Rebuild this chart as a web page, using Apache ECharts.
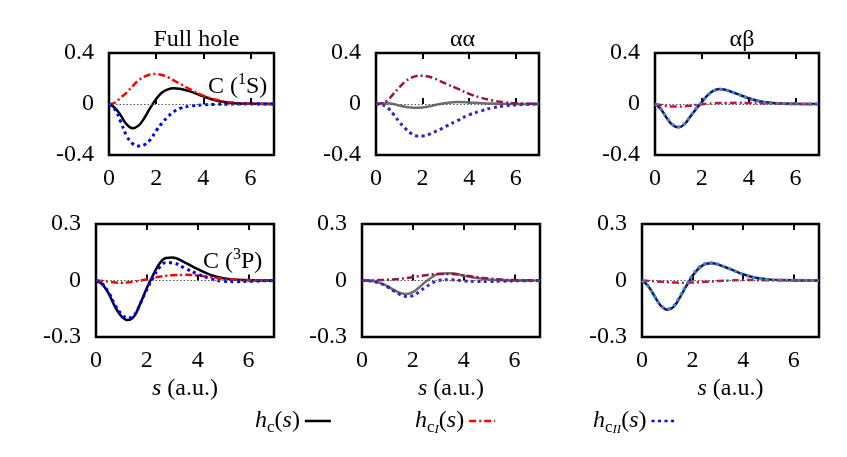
<!DOCTYPE html>
<html>
<head>
<meta charset="utf-8">
<script src="https://cdn.jsdelivr.net/npm/echarts@6/dist/echarts.min.js"></script>
<style>
  html, body { margin: 0; padding: 0; background: #fff; }
  #chart { width: 847px; height: 457px; }
</style>
</head>
<body>
<div id="chart"></div>
<script>
// s values (a.u.)
var s = [0, 0.25, 0.5, 0.75, 1, 1.25, 1.5, 1.75, 2, 2.25, 2.5, 2.75, 3, 3.5, 4, 4.5, 5, 5.5, 6, 7];

// C (1S)
var full1S_hc   = [0, -0.03, -0.09, -0.16, -0.19, -0.17, -0.11, -0.03, 0.04, 0.09, 0.115, 0.123, 0.12, 0.095, 0.06, 0.03, 0.012, 0.004, 0.001, 0];
var full1S_hcI  = [0, 0.01, 0.05, 0.09, 0.14, 0.185, 0.215, 0.232, 0.235, 0.228, 0.21, 0.185, 0.16, 0.11, 0.065, 0.035, 0.017, 0.007, 0.003, 0];
var full1S_hcII = [0, -0.04, -0.14, -0.25, -0.31, -0.33, -0.32, -0.28, -0.21, -0.15, -0.1, -0.06, -0.035, -0.015, -0.007, -0.003, -0.001, 0, 0, 0];
var aa1S_hc     = [0, 0.005, 0.005, 0, -0.012, -0.022, -0.028, -0.03, -0.028, -0.02, -0.01, 0, 0.008, 0.015, 0.012, 0.007, 0.003, 0.001, 0, 0];
var aa1S_hcI    = [0, 0.005, 0.03, 0.08, 0.13, 0.175, 0.205, 0.22, 0.222, 0.215, 0.2, 0.18, 0.16, 0.12, 0.08, 0.05, 0.028, 0.014, 0.006, 0];
var aa1S_hcII   = [0, -0.005, -0.03, -0.08, -0.14, -0.19, -0.23, -0.25, -0.25, -0.24, -0.22, -0.2, -0.175, -0.13, -0.085, -0.055, -0.03, -0.015, -0.007, 0];
var ab1S_hc     = [0, -0.04, -0.11, -0.165, -0.183, -0.16, -0.1, -0.04, 0.015, 0.07, 0.105, 0.118, 0.112, 0.08, 0.045, 0.02, 0.008, 0.003, 0.001, 0];
var ab1S_hcI    = [0, -0.008, -0.016, -0.02, -0.02, -0.018, -0.013, -0.007, -0.002, 0.002, 0.005, 0.007, 0.008, 0.009, 0.008, 0.005, 0.003, 0.001, 0, 0];
var ab1S_hcII   = [0, -0.038, -0.106, -0.16, -0.18, -0.158, -0.099, -0.038, 0.016, 0.069, 0.103, 0.116, 0.11, 0.079, 0.044, 0.02, 0.008, 0.003, 0.001, 0];

// C (3P)
var full3P_hc   = [0, -0.02, -0.07, -0.14, -0.19, -0.21, -0.19, -0.12, -0.04, 0.03, 0.09, 0.12, 0.122, 0.095, 0.06, 0.03, 0.012, 0.004, 0.001, 0];
var full3P_hcI  = [0, -0.002, -0.006, -0.01, -0.012, -0.01, -0.006, 0, 0.007, 0.014, 0.02, 0.025, 0.028, 0.03, 0.026, 0.018, 0.01, 0.005, 0.002, 0];
var full3P_hcII = [0, -0.018, -0.064, -0.13, -0.178, -0.2, -0.184, -0.12, -0.047, 0.016, 0.07, 0.095, 0.094, 0.065, 0.034, 0.01, -0.004, -0.006, -0.004, 0];
var aa3P_hc     = [0, -0.001, -0.005, -0.015, -0.03, -0.05, -0.066, -0.072, -0.062, -0.037, -0.007, 0.017, 0.035, 0.039, 0.026, 0.013, 0.005, 0.001, 0, 0];
var aa3P_hcI    = [0, 0, 0.001, 0.002, 0.004, 0.006, 0.009, 0.013, 0.018, 0.023, 0.028, 0.032, 0.035, 0.035, 0.028, 0.018, 0.01, 0.005, 0.002, 0];
var aa3P_hcII   = [0, -0.001, -0.006, -0.017, -0.034, -0.056, -0.075, -0.085, -0.08, -0.06, -0.035, -0.015, 0, 0.004, -0.002, -0.005, -0.005, -0.004, -0.002, 0];
var ab3P_hc     = [0, -0.03, -0.085, -0.135, -0.155, -0.14, -0.09, -0.03, 0.025, 0.065, 0.087, 0.091, 0.085, 0.06, 0.033, 0.015, 0.006, 0.002, 0.001, 0];
var ab3P_hcI    = [0, -0.002, -0.004, -0.007, -0.009, -0.011, -0.012, -0.012, -0.011, -0.009, -0.007, -0.005, -0.003, 0, 0.002, 0.002, 0.001, 0.001, 0, 0];
var ab3P_hcII   = [0, -0.029, -0.083, -0.131, -0.15, -0.134, -0.084, -0.024, 0.03, 0.07, 0.09, 0.094, 0.087, 0.06, 0.032, 0.014, 0.005, 0.001, 0.001, 0];

var panelTitles = ["Full hole", "\u03b1\u03b1", "\u03b1\u03b2"];
var xTicks = { min: 0, max: 7, interval: 2 };
var yTop = { min: -0.4, max: 0.4, interval: 0.4 };
var yBottom = { min: -0.3, max: 0.3, interval: 0.3 };

window.addEventListener("load", function () {
  var FONT = "Liberation Serif";
  var FS = 24;
  var myChart = echarts.init(document.getElementById("chart"));

  // grid boxes, one per panel
  var boxes = [
    { left: 109, top: 53, width: 165, height: 102 },
    { left: 376, top: 53, width: 163, height: 102 },
    { left: 655, top: 53, width: 164, height: 102 },
    { left: 96, top: 224, width: 178, height: 113 },
    { left: 362, top: 224, width: 178, height: 113 },
    { left: 642, top: 224, width: 177, height: 113 }
  ];

  // colours per column: [solid, dash-dot, dotted]
  var colours = [
    ["#000000", "#ff0000", "#0000ff"],
    ["#6e6e6e", "#99104a", "#3322cc"],
    ["#2a1035", "#cc1145", "#2b8cf0"]
  ];

  var panelData = [
    [full1S_hc, full1S_hcI, full1S_hcII],
    [aa1S_hc, aa1S_hcI, aa1S_hcII],
    [ab1S_hc, ab1S_hcI, ab1S_hcII],
    [full3P_hc, full3P_hcI, full3P_hcII],
    [aa3P_hc, aa3P_hcI, aa3P_hcII],
    [ab3P_hc, ab3P_hcI, ab3P_hcII]
  ];

  function pairs(arr) {
    return s.map(function (x, k) { return [x, arr[k]]; });
  }

  var grids = [], xAxes = [], yAxes = [], series = [];
  var names = ["hc", "hcI", "hcII"];
  var dash = ["solid", [7, 3, 2, 3], [3, 3.5]];
  var widths = [2.5, 2.5, 3];

  boxes.forEach(function (b, i) {
    var bottomRow = i >= 3;
    grids.push({
      left: b.left, top: b.top, width: b.width, height: b.height,
      show: true, borderColor: "#000", borderWidth: 2.5
    });
    // bottom x axis
    xAxes.push({
      type: "value", gridIndex: i, position: "bottom",
      min: xTicks.min, max: xTicks.max, interval: xTicks.interval,
      axisLine: { show: false },
      axisTick: { inside: true, length: 6, lineStyle: { color: "#000", width: 2 } },
      splitLine: { show: false },
      axisLabel: { color: "#000", fontFamily: FONT, fontSize: FS, margin: 12, showMaxLabel: false },
      name: bottomRow ? "{i|s} (a.u.)" : "",
      nameLocation: "middle",
      nameGap: 40,
      nameTextStyle: {
        color: "#000", fontFamily: FONT, fontSize: FS,
        rich: { i: { fontStyle: "italic", fontFamily: FONT, fontSize: FS, color: "#000" } }
      }
    });
    // top x axis, ticks only
    xAxes.push({
      type: "value", gridIndex: i, position: "top",
      min: xTicks.min, max: xTicks.max, interval: xTicks.interval,
      axisLine: { show: false },
      axisTick: { inside: true, length: 6, lineStyle: { color: "#000", width: 2 } },
      splitLine: { show: false },
      axisLabel: { show: false }
    });
    var yr = bottomRow ? yBottom : yTop;
    yAxes.push({
      type: "value", gridIndex: i,
      min: yr.min, max: yr.max, interval: yr.interval,
      axisLine: { show: false },
      axisTick: { show: false },
      splitLine: { show: false },
      axisLabel: { color: "#000", fontFamily: FONT, fontSize: FS, margin: 15 }
    });

    var col = colours[i % 3];
    panelData[i].forEach(function (arr, j) {
      var item = {
        name: i === 0 ? names[j] : names[j] + "_" + i,
        type: "line",
        xAxisIndex: i * 2,
        yAxisIndex: i,
        data: pairs(arr),
        smooth: 0.4,
        symbol: "none",
        z: 2 + j,
        lineStyle: { color: col[j], width: widths[j], type: dash[j] },
        itemStyle: { color: col[j] }
      };
      if (j === 0) {
        item.markLine = {
          silent: true,
          symbol: "none",
          label: { show: false },
          lineStyle: { color: "#555", width: 1, type: [1.5, 2] },
          data: [{ yAxis: 0 }]
        };
      }
      series.push(item);
    });
  });

  var base = { fontFamily: FONT, fontSize: FS, fontWeight: "normal", color: "#000", lineHeight: 30, verticalAlign: "middle" };
  var richText = {
    n: base,
    h: Object.assign({}, base, { fontStyle: "italic" }),
    sub: { fontFamily: FONT, fontSize: 17, fontWeight: "normal", color: "#000", lineHeight: 17, verticalAlign: "bottom" },
    subsub: { fontFamily: FONT, fontSize: 13, fontWeight: "normal", fontStyle: "italic", color: "#000", lineHeight: 7, verticalAlign: "bottom" },
    sup: { fontFamily: FONT, fontSize: 16, fontWeight: "normal", color: "#000", lineHeight: 14, verticalAlign: "top" }
  };

  var titles = panelTitles.map(function (t, i) {
    return {
      text: t,
      left: boxes[i].left + boxes[i].width / 2,
      top: 23,
      textAlign: "center",
      textStyle: { fontFamily: FONT, fontSize: FS, fontWeight: "normal", color: "#000" }
    };
  });
  titles.push({
    text: "{n|C (}{sup|1}{n|S)}", left: 203, top: 67,
    textStyle: { fontWeight: "normal", rich: richText }
  });
  titles.push({
    text: "{n|C (}{sup|3}{n|P)}", left: 198, top: 242,
    textStyle: { fontWeight: "normal", rich: richText }
  });

  var legendLabels = {
    hc: "{h|h}{sub|c}{n|(}{h|s}{n|)}",
    hcI: "{h|h}{sub|c}{subsub|I}{n|(}{h|s}{n|)}",
    hcII: "{h|h}{sub|c}{subsub|II}{n|(}{h|s}{n|)}"
  };
  var legendLeft = [250, 410, 588];
  var legends = names.map(function (n, k) {
    return {
      data: [n],
      left: legendLeft[k],
      top: 404,
      align: "right",
      itemWidth: 26,
      itemHeight: 14,
      itemGap: 2,
      selectedMode: false,
      itemStyle: { opacity: 0 },
      lineStyle: { width: 2.5 },
      formatter: function (name) { return legendLabels[name]; },
      textStyle: { rich: richText, fontWeight: "normal" }
    };
  });

  var option = {
    animation: false,
    backgroundColor: "#fff",
    title: titles,
    legend: legends,
    grid: grids,
    xAxis: xAxes,
    yAxis: yAxes,
    series: series
  };

  myChart.setOption(option);
  window.addEventListener("resize", function () { myChart.resize(); });
});
</script>
</body>
</html>
